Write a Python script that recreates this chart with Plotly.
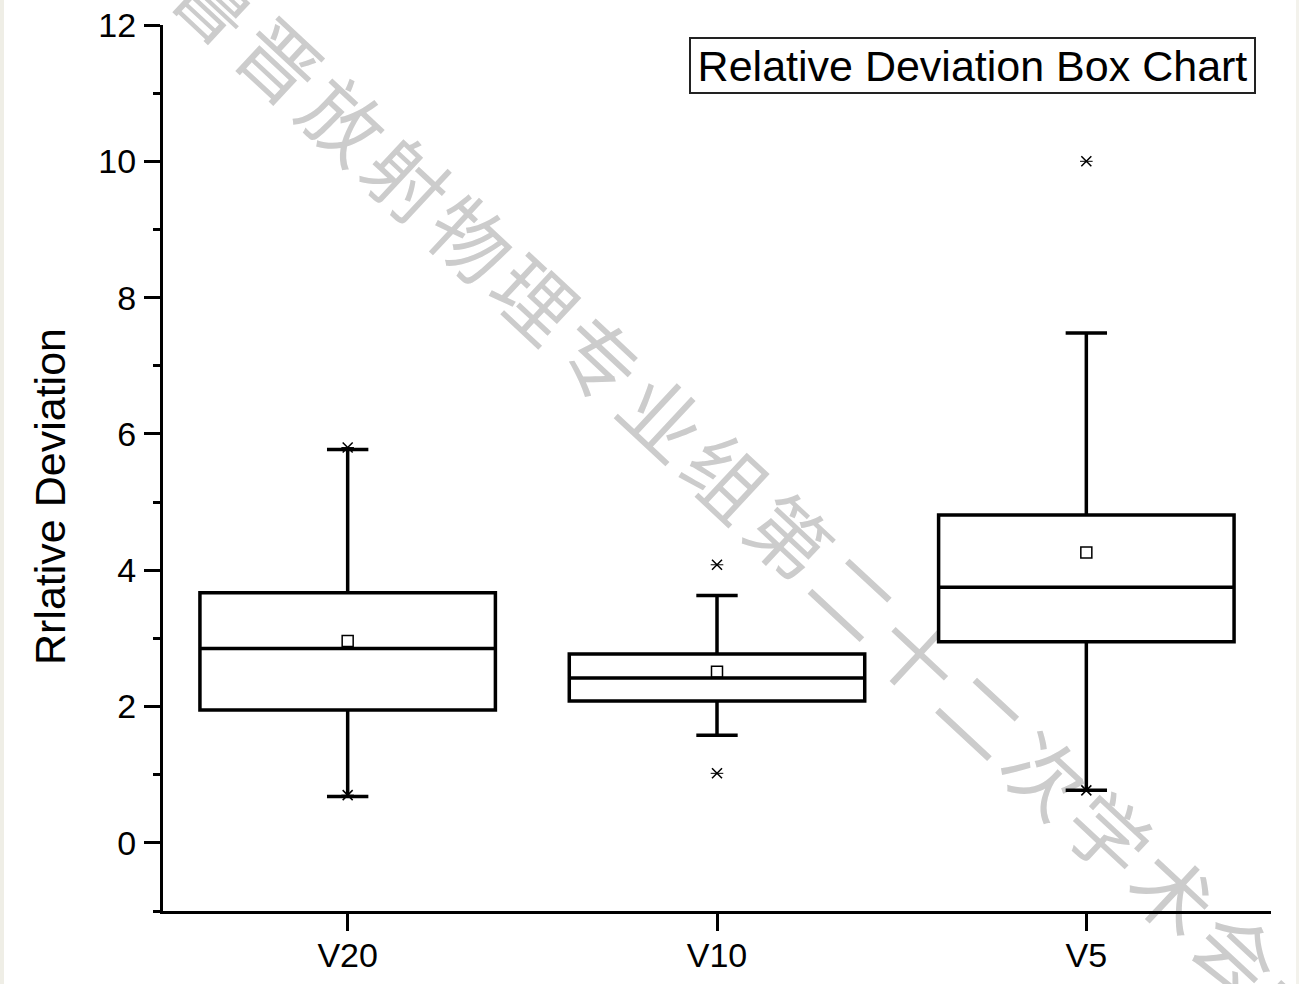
import plotly.graph_objects as go

# ---- data ----
categories = ["V20", "V10", "V5"]
q1 = [1.95, 2.08, 2.95]
median = [2.85, 2.42, 3.75]
q3 = [3.67, 2.77, 4.81]
lower_whisker = [0.68, 1.58, 0.77]
upper_whisker = [5.77, 3.63, 7.48]
mean = [2.96, 2.51, 4.26]
p1 = [0.70, 1.02, 0.77]      # 1st percentile markers (x)
p99 = [5.80, 4.08, 10.0]     # 99th percentile markers (x)
y_tick_vals = [0, 2, 4, 6, 8, 10, 12]
watermark = "鲁晋放射物理专业组第二十二次学术会议"

# ---- geometry of the figure ----
W, H = 1299, 984
L, R, T, B = 163, 28, 25, 73
PW, PH = W - L - R, H - T - B

def px_to_paper(px, py):
    return (px - L) / PW, (H - B - py) / PH

fig = go.Figure()

fig.add_trace(go.Box(
    x=categories, q1=q1, median=median, q3=q3,
    lowerfence=lower_whisker, upperfence=upper_whisker,
    boxpoints=False, width=0.8, whiskerwidth=0.14,
    line=dict(color="black", width=3.5), fillcolor="white",
    showlegend=False, hoverinfo="skip"))

fig.add_trace(go.Scatter(
    x=categories, y=mean, mode="markers", showlegend=False,
    marker=dict(symbol="square-open", size=11, color="black",
                line=dict(width=1.5, color="black"))))

pct_x = categories + categories
pct_y = p1 + p99
fig.add_trace(go.Scatter(
    x=pct_x, y=pct_y, mode="markers", showlegend=False,
    marker=dict(symbol="x-thin", size=10, color="black",
                line=dict(width=1.5, color="black"))))
fig.add_trace(go.Scatter(
    x=pct_x, y=pct_y, mode="markers", showlegend=False,
    marker=dict(symbol="line-ew", size=9, color="black",
                line=dict(width=1, color="black"))))

# ---- watermark (behind the data), one glyph per label ----
shapes = []
base_x, base_y = 337 - 2 * 63.8, 127 - 2 * 59.5
for i, ch in enumerate(watermark):
    cx, cy = base_x + i * 63.8, base_y + i * 59.5
    px, py = px_to_paper(cx, cy)
    shapes.append(dict(
        type="rect", xref="paper", yref="paper",
        x0=px - 0.001, x1=px + 0.001, y0=py - 0.001, y1=py + 0.001,
        line=dict(width=0), fillcolor="rgba(0,0,0,0)", layer="below",
        label=dict(text=ch, textangle=43, textposition="middle center",
                   font=dict(family="Noto Sans CJK SC", size=80, color="#cccccc"))))

# thin beige strips at the image edges
shapes.append(dict(type="rect", xref="paper", yref="paper",
                   x0=(0 - L) / PW, x1=(4 - L) / PW, y0=-B / PH, y1=(H - B) / PH,
                   line=dict(width=0), fillcolor="#efeee6", layer="below"))
shapes.append(dict(type="rect", xref="paper", yref="paper",
                   x0=(1296 - L) / PW, x1=(1299 - L) / PW, y0=-B / PH, y1=(H - B) / PH,
                   line=dict(width=0), fillcolor="#f3f2ec", layer="below"))

tx, ty = px_to_paper(972.5, 65.5)
ytx, yty = px_to_paper(50, 497)
fig.update_layout(
    width=W, height=H, autosize=False,
    margin=dict(l=L, r=R, t=T, b=B, pad=0, autoexpand=False),
    paper_bgcolor="white", plot_bgcolor="white",
    font=dict(family="Liberation Sans, Arial", color="black"),
    shapes=shapes,
    annotations=[
        dict(text="Relative Deviation Box Chart", xref="paper", yref="paper",
             x=tx, y=ty, xanchor="center", yanchor="middle", showarrow=False,
             font=dict(size=43, color="black", family="Liberation Sans, Arial"),
             bordercolor="#222222", borderwidth=2, borderpad=2,
             width=559, height=49, bgcolor="white"),
        dict(text="Rrlative Deviation", xref="paper", yref="paper",
             x=ytx, y=yty, xanchor="center", yanchor="middle", showarrow=False,
             textangle=-90,
             font=dict(size=43, color="black", family="Liberation Sans, Arial")),
    ],
    xaxis=dict(
        type="category", range=[-0.5, 2.5], showgrid=False, zeroline=False,
        automargin=False,
        showline=True, linecolor="black", linewidth=3,
        ticks="outside", ticklen=17, tickwidth=3, tickcolor="black",
        ticklabelstandoff=-5,
        tickfont=dict(size=34, family="Liberation Sans, Arial", color="black")),
    yaxis=dict(
        range=[-1, 12], tickvals=y_tick_vals, showgrid=False, zeroline=False,
        automargin=False,
        showline=True, linecolor="black", linewidth=3,
        ticks="outside", ticklen=16, tickwidth=3, tickcolor="black",
        ticklabelstandoff=1,
        tickfont=dict(size=34, family="Liberation Sans, Arial", color="black"),
        minor=dict(dtick=1, tick0=0, ticks="outside", ticklen=7, tickwidth=3,
                   tickcolor="black", showgrid=False)),
)

fig.write_html("out.html")
